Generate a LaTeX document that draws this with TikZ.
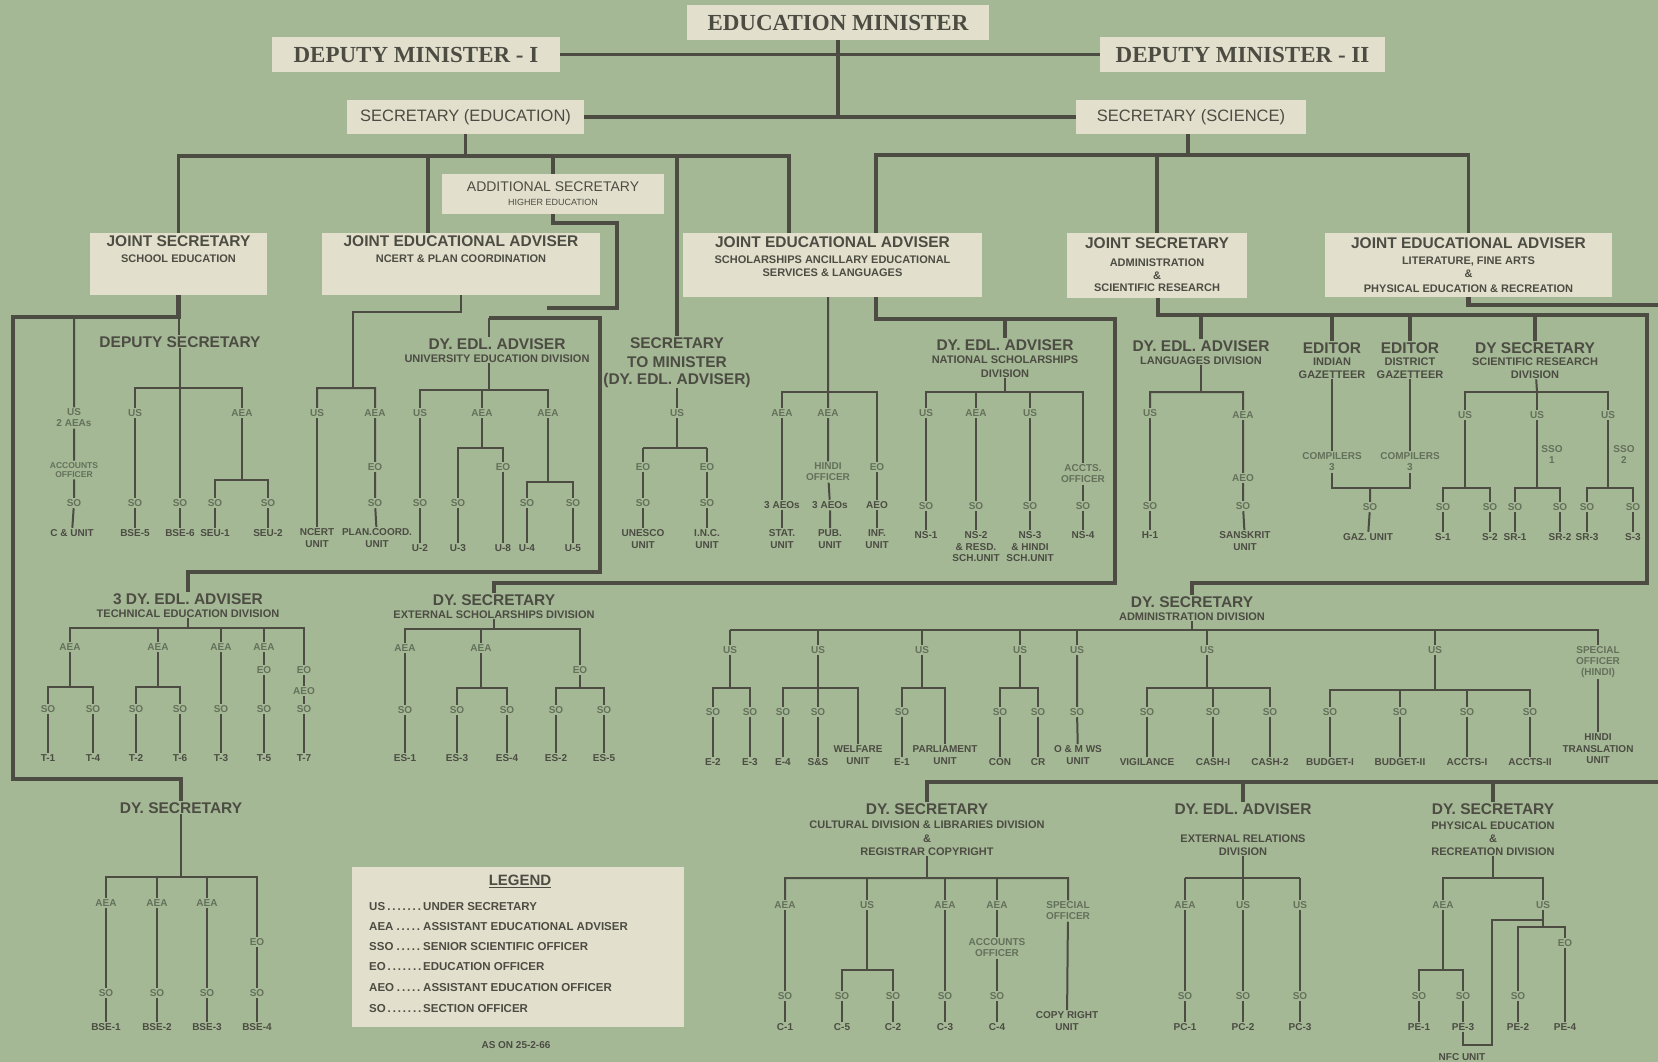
\documentclass[tikz,border=0pt]{standalone}
\usepackage{fontspec}
\setmainfont{Liberation Sans}
\newfontfamily\titlefont{Liberation Serif}
\usepackage{tikz}
\usetikzlibrary{positioning}
\usepackage{xcolor}
\definecolor{paper}{RGB}{164,184,150}
\definecolor{card}{RGB}{226,224,205}
\definecolor{ink}{RGB}{76,76,66}
\definecolor{faint}{RGB}{100,113,90}
\newcommand{\hdfont}{\fontsize{15.5}{17}\selectfont\bfseries}
\newcommand{\subfont}{\fontsize{11}{13}\selectfont\bfseries}

\begin{document}
\begin{tikzpicture}[x=1pt, y=-1pt,
    title/.style={fill=card, text=ink, minimum height=35pt,
      font=\titlefont\fontsize{23}{25}\selectfont\bfseries},
    secbox/.style={fill=card, text=ink, minimum height=34pt,
      font=\fontsize{16.5}{18}\selectfont},
    card/.style={fill=card, inner sep=0pt},
    head/.style={font=\subfont, text=ink, align=center, inner sep=1pt, anchor=north},
    lbl/.style={font=\fontsize{10}{11}\selectfont\bfseries, text=faint, align=center, inner sep=1.5pt},
    unit/.style={font=\fontsize{10}{11.5}\selectfont\bfseries, text=ink, align=center, inner sep=1.5pt},
    legtxt/.style={font=\fontsize{11.5}{13}\selectfont\bfseries, text=ink, inner sep=1pt},
    conn/.style={draw=ink, line width=2pt},
    grp/.style={draw=ink, line width=4.5pt},
    trunk/.style={draw=ink, line width=3.5pt}]

\fill[paper] (0,0) rectangle (1658,1062);
\useasboundingbox (0,0) rectangle (1658,1062);

% minister, deputies, secretaries
\node[title, minimum width=302pt] (em) at (838,22.5) {EDUCATION MINISTER};
\node[title, minimum width=288pt] (dm1) at (416,54.5) {DEPUTY MINISTER - I};
\node[title, minimum width=285pt] (dm2) at (1242.5,54.5) {DEPUTY MINISTER - II};
\node[secbox, minimum width=237pt] (se) at (465.5,117) {SECRETARY (EDUCATION)};
\node[secbox, minimum width=230pt] (ss) at (1191,117) {SECRETARY (SCIENCE)};
\coordinate (emfoot) at (838,117);
\draw[trunk] (dm1) -- (dm2);
\draw[trunk] (em) -- (emfoot);
\draw[trunk] (se) -- (ss);

% joint secretaries and advisers
\node[card, minimum width=177pt, minimum height=62pt] (js1) at (178.5,264) {};
\node[card, minimum width=278pt, minimum height=62pt] (jea1) at (461,264) {};
\node[card, minimum width=222pt, minimum height=40pt] (addl) at (553,194) {};
\node[card, minimum width=299pt, minimum height=64pt] (jea2) at (832.5,265) {};
\node[card, minimum width=180pt, minimum height=65pt] (js2) at (1157,265.5) {};
\node[card, minimum width=287pt, minimum height=64pt] (jea3) at (1468.5,265) {};
\node[head, below=2pt of js1.north] (js1t) {{\hdfont JOINT SECRETARY}\\[3pt]SCHOOL EDUCATION};
\node[head, below=2pt of jea1.north] (jea1t) {{\hdfont JOINT EDUCATIONAL ADVISER}\\[3pt]NCERT \& PLAN COORDINATION};
\node[head, below=7pt of addl.north] (addlt) {{\fontsize{14}{16}\selectfont\mdseries ADDITIONAL SECRETARY}\\[1pt]{\fontsize{9}{10}\selectfont\mdseries HIGHER EDUCATION}};
\node[head, below=3pt of jea2.north] (jea2t) {{\hdfont JOINT EDUCATIONAL ADVISER}\\[3pt]SCHOLARSHIPS ANCILLARY EDUCATIONAL\\SERVICES \& LANGUAGES};
\node[head, below=4pt of js2.north] (js2t) {{\hdfont JOINT SECRETARY}\\[5pt]ADMINISTRATION\\\&\\[-1pt]SCIENTIFIC RESEARCH};
\node[head, below=4pt of jea3.north] (jea3t) {{\hdfont JOINT EDUCATIONAL ADVISER}\\[3pt]LITERATURE, FINE ARTS\\\&\\[2pt]PHYSICAL EDUCATION \& RECREATION};

% school education
\node[head] (ds1) at (180,335) {{\hdfont DEPUTY SECRETARY}};
\coordinate (y1) at (178.5,317);
\coordinate (y2) at (13,317);
\coordinate (y3) at (13,779);
\coordinate (y4) at (181,779);
\coordinate (r1) at (180,388);
\coordinate (r2) at (242,480);
\node[lbl] (a1) at (74,418) {US\\2 AEAs};
\node[lbl, font=\fontsize{8.5}{9.5}\selectfont\bfseries] (a2) at (74,470) {ACCOUNTS\\OFFICER};
\node[lbl] (a3) at (74,503) {SO};
\node[unit] (a4) at (72,533) {C \& UNIT};
\node[lbl] (c1) at (135,413) {US};
\node[lbl] (c3) at (242,413) {AEA};
\foreach \n/\x/\lab in {sb1/135/BSE-5, sb2/180/BSE-6, sb3/215/SEU-1, sb4/268/SEU-2}{
  \node[lbl] (\n) at (\x,503) {SO};
  \node[unit] (\n-u) at (\x,533) {\lab};
  \draw[conn] (\n) -- (\n-u);
}
\draw[conn] (a1 |- y2) -- (a1) -- (a2) -- (a3) -- (a4);
\draw[conn] (y1) -- (ds1.north -| y1);
\draw[conn] (ds1) -- (sb2);
\draw[conn] (c1) -- (c1 |- r1) -- (c3 |- r1) -- (c3) -- (r2);
\draw[conn] (c1) -- (sb1);
\draw[conn] (sb3) -- (sb3 |- r2) -- (sb4 |- r2) -- (sb4);

% ncert
\coordinate (n0) at (353,312);
\coordinate (r3) at (353,388);
\node[lbl] (n1) at (317,413) {US};
\node[lbl] (n2) at (375,413) {AEA};
\node[lbl] (n3) at (375,467) {EO};
\node[lbl] (n4) at (375,503) {SO};
\node[unit] (n1-u) at (317,538) {NCERT\\UNIT};
\node[unit] (n4-u) at (377,538) {PLAN.COORD.\\UNIT};
\draw[conn] (jea1.south) |- (n0) -- (r3);
\draw[conn] (n1) -- (n1 |- r3) -- (n2 |- r3) -- (n2) -- (n3) -- (n4) -- (n4-u);
\draw[conn] (n1) -- (n1-u);

% university education
\node[head] (dea1) at (497,337) {{\hdfont DY. EDL. ADVISER}\\UNIVERSITY EDUCATION DIVISION};
\coordinate (h1) at (489,318);
\coordinate (h2) at (600,318);
\coordinate (h3) at (600,572);
\coordinate (h4) at (188,572);
\coordinate (g1) at (617,223);
\coordinate (g2) at (547,308);
\coordinate (r4) at (489,390);
\coordinate (r5) at (482,448);
\coordinate (r6) at (548,482);
\node[lbl] (v1) at (420,413) {US};
\node[lbl] (v2) at (482,413) {AEA};
\node[lbl] (v3) at (548,413) {AEA};
\node[lbl] (v4) at (503,467) {EO};
\foreach \n/\x/\lab in {sv1/420/U-2, sv2/458/U-3, sv3/527/U-4, sv4/573/U-5}{
  \node[lbl] (\n) at (\x,503) {SO};
  \node[unit] (\n-u) at (\x,548) {\lab};
  \draw[conn] (\n) -- (\n-u);
}
\node[unit] (v4-u) at (503,548) {U-8};
\draw[conn] (h1) -- (h1 |- dea1.north);
\draw[conn] (r4 |- dea1.south) -- (r4);
\draw[conn] (v1) -- (v1 |- r4) -- (v3 |- r4) -- (v3) -- (r6);
\draw[conn] (v2 |- r4) -- (v2) -- (r5);
\draw[conn] (v1) -- (sv1);
\draw[conn] (sv2) -- (sv2 |- r5) -- (v4 |- r5) -- (v4) -- (v4-u);
\draw[conn] (sv3) -- (sv3 |- r6) -- (sv4 |- r6) -- (sv4);

% secretary to minister
\node[head, font=\hdfont] (stm) at (677,336) {SECRETARY\\[2pt]TO MINISTER\\(DY. EDL. ADVISER)};
\coordinate (r7) at (677,448);
\node[lbl] (m1) at (677,413) {US};
\foreach \n/\x/\lab in {m2/643/UNESCO, m3/707/I.N.C.}{
  \node[lbl] (\n) at (\x,467) {EO};
  \node[lbl] (\n-s) at (\x,503) {SO};
  \node[unit] (\n-u) at (\x,539) {\lab\\UNIT};
  \draw[conn] (\n |- r7) -- (\n) -- (\n-s) -- (\n-u);
}
\draw[conn] (stm) -- (m1) -- (r7);
\draw[conn] (m2 |- r7) -- (m3 |- r7);

% scholarships, ancillary services
\coordinate (r8) at (828,392);
\node[lbl] (p1) at (782,413) {AEA};
\node[lbl] (p2) at (828,413) {AEA};
\node[lbl] (p3) at (877,467) {EO};
\node[lbl] (p2-h) at (828,472) {HINDI\\OFFICER};
\node[unit] (p1-a) at (782,505) {3 AEOs};
\node[unit] (p2-a) at (830,505) {3 AEOs};
\node[unit] (p3-a) at (877,505) {AEO};
\node[unit] (p1-u) at (782,539) {STAT.\\UNIT};
\node[unit] (p2-u) at (830,539) {PUB.\\UNIT};
\node[unit] (p3-u) at (877,539) {INF.\\UNIT};
\draw[conn] (jea2.south -| r8) -- (r8) -- (p2) -- (p2-h) -- (p2-a) -- (p2-u);
\draw[conn] (p1) -- (p1 |- r8) -- (p3 |- r8) -- (p3) -- (p3-a) -- (p3-u);
\draw[conn] (p1) -- (p1-a) -- (p1-u);

% national scholarships
\node[head] (dea2) at (1005,338) {{\hdfont DY. EDL. ADVISER}\\NATIONAL SCHOLARSHIPS\\[1pt]DIVISION};
\coordinate (r9) at (1005,392);
\node[lbl] (t1) at (926,413) {US};
\node[lbl] (t2) at (976,413) {AEA};
\node[lbl] (t3) at (1030,413) {US};
\node[lbl] (t4) at (1083,474) {ACCTS.\\OFFICER};
\foreach \n/\x in {t1/926, t2/976, t3/1030, t4/1083}{
  \node[lbl] (\n-s) at (\x,506) {SO};
  \draw[conn] (\n) -- (\n-s);
}
\node[unit] (t1-u) at (926,535) {NS-1};
\node[unit] (t2-u) at (976,547) {NS-2\\\& RESD.\\SCH.UNIT};
\node[unit] (t3-u) at (1030,547) {NS-3\\\& HINDI\\SCH.UNIT};
\node[unit] (t4-u) at (1083,535) {NS-4};
\foreach \n in {t1, t2, t3, t4}{\draw[conn] (\n-s) -- (\n-u);}
\draw[conn] (dea2) -- (r9);
\draw[conn] (t1) -- (t1 |- r9) -- (t4 |- r9) -- (t4);
\draw[conn] (t2 |- r9) -- (t2);
\draw[conn] (t3 |- r9) -- (t3);

% languages
\node[head] (dea3) at (1201,339) {{\hdfont DY. EDL. ADVISER}\\LANGUAGES DIVISION};
\coordinate (r10) at (1201,392);
\node[lbl] (l1) at (1150,413) {US};
\node[lbl] (l2) at (1243,415) {AEA};
\node[lbl] (l2-a) at (1243,478) {AEO};
\node[lbl] (l1-s) at (1150,506) {SO};
\node[lbl] (l2-s) at (1243,506) {SO};
\node[unit] (l1-u) at (1150,535) {H-1};
\node[unit] (l2-u) at (1245,541) {SANSKRIT\\UNIT};
\draw[conn] (dea3) -- (r10);
\draw[conn] (l1) -- (l1 |- r10) -- (l2 |- r10) -- (l2) -- (l2-a) -- (l2-s) -- (l2-u);
\draw[conn] (l1) -- (l1-s) -- (l1-u);

% gazetteers
\node[head] (ed1) at (1332,341) {{\hdfont EDITOR}\\[-1pt]INDIAN\\GAZETTEER};
\node[head] (ed2) at (1410,341) {{\hdfont EDITOR}\\[-1pt]DISTRICT\\GAZETTEER};
\node[lbl] (ed1-c) at (1332,462) {COMPILERS\\3};
\node[lbl] (ed2-c) at (1410,462) {COMPILERS\\3};
\coordinate (r11) at (1370,488);
\node[lbl] (gz-s) at (1370,507) {SO};
\node[unit] (gz-u) at (1368,537) {GAZ. UNIT};
\draw[conn] (ed1) -- (ed1-c) -- (ed1-c |- r11) -- (ed2-c |- r11) -- (ed2-c) -- (ed2);
\draw[conn] (r11) -- (gz-s) -- (gz-u);

% scientific research
\node[head] (dsr) at (1535,341) {{\hdfont DY SECRETARY}\\[-1pt]SCIENTIFIC RESEARCH\\DIVISION};
\coordinate (r12) at (1537,392);
\coordinate (r13) at (1465,488);
\coordinate (r14) at (1537,488);
\coordinate (r15) at (1608,488);
\node[lbl] (x1) at (1465,415) {US};
\node[lbl] (x2) at (1537,415) {US};
\node[lbl] (x3) at (1608,415) {US};
\node[lbl] (sso1) at (1552,455) {SSO\\1};
\node[lbl] (sso2) at (1624,455) {SSO\\2};
\foreach \n/\x/\lab in {xs1/1443/S-1, xs2/1490/S-2, xs3/1515/SR-1, xs4/1560/SR-2, xs5/1587/SR-3, xs6/1633/S-3}{
  \node[lbl] (\n) at (\x,507) {SO};
  \node[unit] (\n-u) at (\x,537) {\lab};
  \draw[conn] (\n) -- (\n-u);
}
\draw[conn] (dsr) -- (r12);
\draw[conn] (x1) -- (x1 |- r12) -- (x3 |- r12) -- (x3) -- (r15);
\draw[conn] (x2 |- r12) -- (x2) -- (r14);
\draw[conn] (x1) -- (r13);
\draw[conn] (xs1) -- (xs1 |- r13) -- (xs2 |- r13) -- (xs2);
\draw[conn] (xs3) -- (xs3 |- r14) -- (xs4 |- r14) -- (xs4);
\draw[conn] (xs5) -- (xs5 |- r15) -- (xs6 |- r15) -- (xs6);

% technical education
\node[head] (dea4) at (188,592) {{\hdfont 3 DY. EDL. ADVISER}\\TECHNICAL EDUCATION DIVISION};
\coordinate (r16) at (188,628);
\coordinate (r17) at (70,687);
\coordinate (r18) at (158,687);
\node[lbl] (k1) at (70,647) {AEA};
\node[lbl] (k2) at (158,647) {AEA};
\node[lbl] (k3) at (221,647) {AEA};
\node[lbl] (k4) at (264,647) {AEA};
\node[lbl] (k4-e) at (264,670) {EO};
\node[lbl] (k5) at (304,670) {EO};
\node[lbl] (k5-a) at (304,691) {AEO};
\foreach \n/\x/\lab in {ks1/48/T-1, ks2/93/T-4, ks3/136/T-2, ks4/180/T-6, ks5/221/T-3, ks6/264/T-5, ks7/304/T-7}{
  \node[lbl] (\n) at (\x,709) {SO};
  \node[unit] (\n-u) at (\x,758) {\lab};
  \draw[conn] (\n) -- (\n-u);
}
\draw[conn] (dea4) -- (r16);
\draw[conn] (k1) -- (k1 |- r16) -- (k5 |- r16) -- (k5) -- (k5-a) -- (ks7);
\draw[conn] (k2 |- r16) -- (k2) -- (r18);
\draw[conn] (k3 |- r16) -- (k3) -- (ks5);
\draw[conn] (k4 |- r16) -- (k4) -- (k4-e) -- (ks6);
\draw[conn] (k1) -- (r17);
\draw[conn] (ks1) -- (ks1 |- r17) -- (ks2 |- r17) -- (ks2);
\draw[conn] (ks3) -- (ks3 |- r18) -- (ks4 |- r18) -- (ks4);

% external scholarships
\node[head] (dse) at (494,593) {{\hdfont DY. SECRETARY}\\EXTERNAL SCHOLARSHIPS DIVISION};
\coordinate (r19) at (494,629);
\coordinate (r20) at (481,688);
\coordinate (r21) at (580,688);
\node[lbl] (f1) at (405,648) {AEA};
\node[lbl] (f2) at (481,648) {AEA};
\node[lbl] (f3) at (580,670) {EO};
\foreach \n/\x/\lab in {fs1/405/ES-1, fs2/457/ES-3, fs3/507/ES-4, fs4/556/ES-2, fs5/604/ES-5}{
  \node[lbl] (\n) at (\x,710) {SO};
  \node[unit] (\n-u) at (\x,758) {\lab};
  \draw[conn] (\n) -- (\n-u);
}
\draw[conn] (dse) -- (r19);
\draw[conn] (f1) -- (f1 |- r19) -- (f3 |- r19) -- (f3) -- (r21);
\draw[conn] (f2 |- r19) -- (f2) -- (r20);
\draw[conn] (f1) -- (fs1);
\draw[conn] (fs2) -- (fs2 |- r20) -- (fs3 |- r20) -- (fs3);
\draw[conn] (fs4) -- (fs4 |- r21) -- (fs5 |- r21) -- (fs5);

% administration
\node[head] (dsa) at (1192,595) {{\hdfont DY. SECRETARY}\\ADMINISTRATION DIVISION};
\coordinate (r22) at (1192,630);
\coordinate (r23) at (730,688);
\coordinate (r24) at (818,688);
\coordinate (r25) at (922,688);
\coordinate (r26) at (1020,688);
\coordinate (r27) at (1207,688);
\coordinate (r28) at (1435,690);
\foreach \n/\x in {d1/730, d2/818, d3/922, d4/1020, d5/1077, d6/1207, d7/1435}{
  \node[lbl] (\n) at (\x,650) {US};
  \draw[conn] (\n |- r22) -- (\n);
}
\node[lbl] (d8) at (1598,662) {SPECIAL\\OFFICER\\(HINDI)};
\foreach \n/\x/\lab in {ea1/713/E-2, ea2/750/E-3, ea3/783/E-4, ea4/818/S\&S, ea5/902/E-1, ea6/1000/CON, ea7/1038/CR, ea9/1147/VIGILANCE, ea10/1213/CASH-I, ea11/1270/CASH-2, ea12/1330/BUDGET-I, ea13/1400/BUDGET-II, ea14/1467/ACCTS-I, ea15/1530/ACCTS-II}{
  \node[lbl] (\n) at (\x,712) {SO};
  \node[unit] (\n-u) at (\x,762) {\lab};
  \draw[conn] (\n) -- (\n-u);
}
\node[lbl] (ea8) at (1077,712) {SO};
\node[unit] (ea8-u) at (1078,755) {O \& M WS\\UNIT};
\node[unit] (wf-u) at (858,755) {WELFARE\\UNIT};
\node[unit] (pl-u) at (945,755) {PARLIAMENT\\UNIT};
\node[unit] (d8-u) at (1598,749) {HINDI\\TRANSLATION\\UNIT};
\draw[conn] (dsa.south) -- (dsa.south |- r22);
\draw[conn] (d1 |- r22) -- (d8 |- r22) -- (d8) -- (d8-u);
\draw[conn] (d1) -- (r23);
\draw[conn] (ea1) -- (ea1 |- r23) -- (ea2 |- r23) -- (ea2);
\draw[conn] (d2) -- (ea4);
\draw[conn] (ea3) -- (ea3 |- r24) -- (wf-u |- r24) -- (wf-u);
\draw[conn] (d3) -- (r25);
\draw[conn] (ea5) -- (ea5 |- r25) -- (pl-u |- r25) -- (pl-u);
\draw[conn] (d4) -- (r26);
\draw[conn] (ea6) -- (ea6 |- r26) -- (ea7 |- r26) -- (ea7);
\draw[conn] (d5) -- (ea8) -- (ea8-u);
\draw[conn] (d6) -- (r27);
\draw[conn] (ea9) -- (ea9 |- r27) -- (ea11 |- r27) -- (ea11);
\draw[conn] (ea10 |- r27) -- (ea10);
\draw[conn] (d7) -- (r28);
\draw[conn] (ea12) -- (ea12 |- r28) -- (ea15 |- r28) -- (ea15);
\draw[conn] (ea13 |- r28) -- (ea13);
\draw[conn] (ea14 |- r28) -- (ea14);

% bse
\node[head] (dsb) at (181,801) {{\hdfont DY. SECRETARY}};
\coordinate (r29) at (181,877);
\node[lbl] (o1) at (106,903) {AEA};
\node[lbl] (o2) at (157,903) {AEA};
\node[lbl] (o3) at (207,903) {AEA};
\node[lbl] (o4) at (257,942) {EO};
\foreach \n/\x/\lab in {o1/106/BSE-1, o2/157/BSE-2, o3/207/BSE-3, o4/257/BSE-4}{
  \node[lbl] (\n-s) at (\x,993) {SO};
  \node[unit] (\n-u) at (\x,1027) {\lab};
  \draw[conn] (\n) -- (\n-s) -- (\n-u);
}
\draw[conn] (dsb) -- (r29);
\draw[conn] (o1) -- (o1 |- r29) -- (o4 |- r29) -- (o4);
\draw[conn] (o2 |- r29) -- (o2);
\draw[conn] (o3 |- r29) -- (o3);

% legend
\node[card, minimum width=332pt, minimum height=160pt] (leg) at (518,947) {};
\node[text=ink, font=\fontsize{15}{16}\selectfont\bfseries] (legt) at (520,881) {\underline{LEGEND}};
\foreach \y/\ab/\txt in {907/US/UNDER SECRETARY, 927/AEA/ASSISTANT EDUCATIONAL ADVISER, 947/SSO/SENIOR SCIENTIFIC OFFICER, 967/EO/EDUCATION OFFICER, 988/AEO/ASSISTANT EDUCATION OFFICER, 1009/SO/SECTION OFFICER}{
  \node[legtxt, anchor=west] (lg\y) at (368,\y) {\makebox[54pt][l]{\ab\dotfill}\txt};
}
\node[unit] (asof) at (516,1045) {AS ON 25-2-66};

% cultural
\node[head] (dsc) at (927,802) {{\hdfont DY. SECRETARY}\\[1pt]CULTURAL DIVISION \& LIBRARIES DIVISION\\[1pt]\&\\REGISTRAR COPYRIGHT};
\coordinate (r30) at (927,878);
\coordinate (r31) at (867,970);
\node[lbl] (cc1) at (785,905) {AEA};
\node[lbl] (cc2) at (867,905) {US};
\node[lbl] (cc3) at (945,905) {AEA};
\node[lbl] (cc4) at (997,905) {AEA};
\node[lbl] (cc5) at (1068,911) {SPECIAL\\OFFICER};
\node[lbl] (cc4-a) at (997,948) {ACCOUNTS\\OFFICER};
\foreach \n/\x/\lab in {cs1/785/C-1, cs2/842/C-5, cs3/893/C-2, cs4/945/C-3, cs5/997/C-4}{
  \node[lbl] (\n) at (\x,996) {SO};
  \node[unit] (\n-u) at (\x,1027) {\lab};
  \draw[conn] (\n) -- (\n-u);
}
\node[unit] (cc5-u) at (1067,1021) {COPY RIGHT\\UNIT};
\draw[conn] (dsc) -- (r30);
\draw[conn] (cc1) -- (cc1 |- r30) -- (cc5 |- r30) -- (cc5) -- (cc5-u);
\draw[conn] (cc2 |- r30) -- (cc2) -- (r31);
\draw[conn] (cc3 |- r30) -- (cc3) -- (cs4);
\draw[conn] (cc4 |- r30) -- (cc4) -- (cc4-a) -- (cs5);
\draw[conn] (cc1) -- (cs1);
\draw[conn] (cs2) -- (cs2 |- r31) -- (cs3 |- r31) -- (cs3);

% external relations
\node[head] (der) at (1243,802) {{\hdfont DY. EDL. ADVISER}\\[15pt]EXTERNAL RELATIONS\\DIVISION};
\coordinate (r32) at (1243,878);
\foreach \n/\x/\ab/\lab in {er1/1185/AEA/PC-1, er2/1243/US/PC-2, er3/1300/US/PC-3}{
  \node[lbl] (\n) at (\x,905) {\ab};
  \node[lbl] (\n-s) at (\x,996) {SO};
  \node[unit] (\n-u) at (\x,1027) {\lab};
  \draw[conn] (\n |- r32) -- (\n) -- (\n-s) -- (\n-u);
}
\draw[conn] (der) -- (r32);
\draw[conn] (er1 |- r32) -- (er3 |- r32);

% physical education
\node[head] (dsp) at (1493,802) {{\hdfont DY. SECRETARY}\\[2pt]PHYSICAL EDUCATION\\\&\\RECREATION DIVISION};
\coordinate (r33) at (1493,878);
\coordinate (r34) at (1443,970);
\coordinate (r35) at (1543,927);
\coordinate (nf1) at (1492,920);
\coordinate (nf2) at (1492,1045);
\node[lbl] (ph1) at (1443,905) {AEA};
\node[lbl] (ph2) at (1543,905) {US};
\node[lbl] (ph2-e) at (1565,943) {EO};
\foreach \n/\x/\lab in {pe1/1419/PE-1, pe3/1463/PE-3, pe2/1518/PE-2}{
  \node[lbl] (\n) at (\x,996) {SO};
  \node[unit] (\n-u) at (\x,1027) {\lab};
  \draw[conn] (\n) -- (\n-u);
}
\node[unit] (pe4-u) at (1565,1027) {PE-4};
\node[unit] (nfc) at (1462,1057) {NFC UNIT};
\draw[conn] (dsp) -- (r33);
\draw[conn] (ph1) -- (ph1 |- r33) -- (ph2 |- r33) -- (ph2) -- (r35);
\draw[conn] (ph1) -- (r34);
\draw[conn] (pe1) -- (pe1 |- r34) -- (pe3 |- r34) -- (pe3);
\draw[conn] (pe2) -- (pe2 |- r35) -- (ph2-e |- r35) -- (ph2-e) -- (pe4-u);
\draw[conn] (ph2 |- nf1) -- (nf1) -- (nf2) -| (pe3-u);

% branches below the secretaries
\coordinate (sebar) at (465.5,156);
\coordinate (jea1l) at (428,156);
\coordinate (jea2l) at (789,156);
\coordinate (ssbar) at (1188,155);
\coordinate (jea2r) at (876,155);
\draw[trunk] (se) -- (sebar);
\draw[trunk] (js1.north) -- (js1 |- sebar) -- (jea2l) -- (jea2l |- jea2.north);
\draw[trunk] (jea1l) -- (jea1l |- jea1.north);
\draw[trunk] (addl |- sebar) -- (addl.north);
\draw[trunk] (stm |- sebar) -- (stm.north);
\draw[trunk] (ss.south -| ssbar) -- (ssbar);
\draw[trunk] (jea2r |- jea2.north) -- (jea2r) -- (jea3 |- ssbar) -- (jea3.north);
\draw[trunk] (js2 |- ssbar) -- (js2.north);

% group lines
\coordinate (q1) at (876,319);
\coordinate (q2) at (1115,319);
\coordinate (q3) at (1115,583);
\coordinate (q4) at (494,583);
\coordinate (w1) at (1158,315);
\coordinate (w2) at (1647,315);
\coordinate (w3) at (1647,583);
\coordinate (w4) at (1192,583);
\coordinate (v1) at (1468.5,305);
\coordinate (v2) at (1658,305);
\coordinate (z1) at (927,782);
\coordinate (z2) at (1658,782);
\draw[grp] (js1.south) -- (y1) -- (y2) -- (y3) -- (y4) -- (y4 |- dsb.north);
\draw[grp] (addl.south) -- (addl.south |- g1) -- (g1) |- (g2);
\draw[grp] (h1) -- (h2) -- (h3) -- (h4) -- (h4 |- dea4.north);
\draw[grp] (jea2.south -| q1) -- (q1) -- (q2) -- (q3) -- (q4) -- (q4 |- dse.north);
\draw[grp] (dea2 |- q1) -- (dea2.north);
\draw[grp] (js2.south -| w1) -- (w1) -- (w2) -- (w3) -- (w4) -- (w4 |- dsa.north);
\foreach \n in {dea3, ed1, ed2, dsr}{\draw[grp] (\n |- w1) -- (\n.north);}
\draw[grp] (jea3.south) -- (v1) -- (v2);
\draw[grp] (z2) -- (z1) -- (z1 |- dsc.north);
\draw[grp] (der |- z1) -- (der.north);
\draw[grp] (dsp |- z1) -- (dsp.north);
\end{tikzpicture}
\end{document}
